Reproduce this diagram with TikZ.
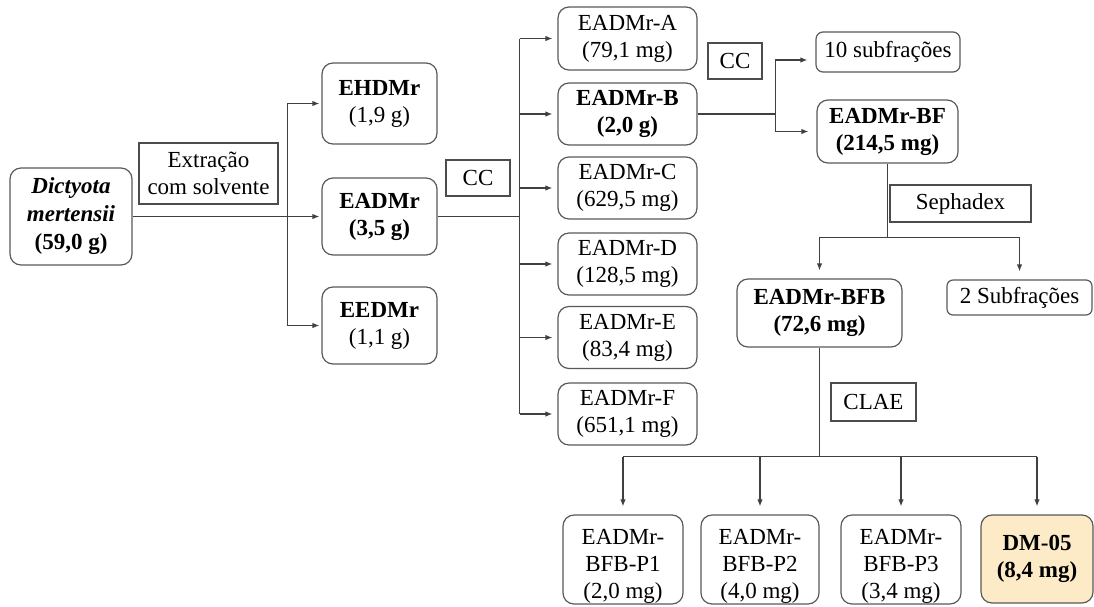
\documentclass[tikz,border=0pt]{standalone}
\usepackage{fontspec}
\setmainfont{Liberation Serif}
\usetikzlibrary{arrows.meta}
\definecolor{dmfill}{HTML}{FCEBC6}

\begin{document}
\begin{tikzpicture}[x=1pt, y=-1pt,
                every node/.style={font=\fontsize{23}{27}\selectfont, align=center, inner sep=0pt},
                box/.style={draw=black!65, line width=1.2pt, rounded corners=11pt},
                tag/.style={draw=black!70, line width=1.2pt},
                link/.style={draw=black!75, line width=1.2pt},
                arr/.style={link, -{Latex[length=7pt,width=5.5pt]}, shorten >=2pt}]

                \useasboundingbox (0,0) rectangle (1094,606);

                % alga e extratos
                \node[box, minimum width=122pt, minimum height=97pt, font=\fontsize{23}{28}\selectfont] (alga) at (71,216.5)
                    {\textbf{\textit{Dictyota}}\\\textbf{\textit{mertensii}}\\\textbf{(59,0 g)}};
                \node[tag, minimum width=139pt, minimum height=61pt] (extr) at (208.5,173.5) {Extração\\com solvente};
                \node[box, minimum width=115pt, minimum height=81pt] (ehd) at (379.5,103.5) {\textbf{EHDMr}\\(1,9 g)};
                \node[box, minimum width=115pt, minimum height=77pt] (ead) at (379.5,216.5) {\textbf{EADMr}\\\textbf{(3,5 g)}};
                \node[box, minimum width=115pt, minimum height=77pt] (eed) at (379.5,325.5) {\textbf{EEDMr}\\(1,1 g)};

                % frações do EADMr
                \node[tag, minimum width=64pt, minimum height=36pt] (cc1) at (478,178) {CC};
                \node[box, minimum width=139pt, minimum height=63pt] (fa) at (627.5,38.5) {EADMr-A\\(79,1 mg)};
                \node[box, minimum width=139pt, minimum height=62pt] (fb) at (627.5,114) {\textbf{EADMr-B}\\\textbf{(2,0 g)}};
                \node[box, minimum width=139pt, minimum height=62pt] (fc) at (627.5,188) {EADMr-C\\(629,5 mg)};
                \node[box, minimum width=139pt, minimum height=62pt] (fd) at (627.5,264) {EADMr-D\\(128,5 mg)};
                \node[box, minimum width=139pt, minimum height=62pt] (fe) at (627.5,337.5) {EADMr-E\\(83,4 mg)};
                \node[box, minimum width=139pt, minimum height=62pt] (ff) at (627.5,414) {EADMr-F\\(651,1 mg)};

                % subfrações de EADMr-B
                \node[tag, minimum width=54pt, minimum height=36pt] (cc2) at (735,61) {CC};
                \node[box, rounded corners=7pt, minimum width=144pt, minimum height=40pt] (sub10) at (888,52) {10 subfrações};
                \node[box, minimum width=141pt, minimum height=63pt] (bf) at (887.5,131.5) {\textbf{EADMr-BF}\\\textbf{(214,5 mg)}};
                \node[tag, minimum width=141pt, minimum height=37pt] (seph) at (960.5,203.5) {Sephadex};
                \node[box, minimum width=165pt, minimum height=68pt] (bfb) at (819.5,313) {\textbf{EADMr-BFB}\\\textbf{(72,6 mg)}};
                \node[box, rounded corners=6pt, minimum width=145pt, minimum height=35pt] (sub2) at (1019.5,297.5) {2 Subfrações};

                % CLAE
                \node[tag, minimum width=85pt, minimum height=38pt] (clae) at (873.5,402) {CLAE};
                \node[box, minimum width=120pt, minimum height=89pt] (p1) at (623,559.5) {\rule{0pt}{28pt}EADMr-\\BFB-P1\\(2,0 mg)};
                \node[box, minimum width=118pt, minimum height=89pt] (p2) at (760,559.5) {\rule{0pt}{28pt}EADMr-\\BFB-P2\\(4,0 mg)};
                \node[box, minimum width=120pt, minimum height=89pt] (p3) at (901,559.5) {\rule{0pt}{28pt}EADMr-\\BFB-P3\\(3,4 mg)};
                \node[box, fill=dmfill, minimum width=112pt, minimum height=88pt] (dm05) at (1037,559) {\textbf{DM-05}\\\textbf{(8,4 mg)}};

                % ligações
                \path (alga.east) ++(155,0) coordinate (j1);
                \draw[link] (alga.east) -- (j1);
                \draw[arr] (j1) |- (ehd.west);
                \draw[arr] (j1) -- (ead.west);
                \draw[arr] (j1) |- (eed.west);

                \path (ead.east) ++(82,0) coordinate (j2);
                \draw[link] (ead.east) -- (j2);
                \draw[link] (j2 |- fa.west) -- (j2 |- ff.west);
                \foreach \n in {fa,fb,fc,fd,fe,ff}
                    \draw[arr, shorten >=5pt] (j2 |- \n.west) -- (\n.west);

                \path (fb.east) ++(78,0) coordinate (j3);
                \draw[link] (fb.east) -- (j3);
                \draw[arr, shorten >=8pt] (j3) |- ([yshift=-8pt]sub10.west);
                \draw[arr, shorten >=8pt] (j3) |- (bf.west);

                \path (bf.south) ++(0,74) coordinate (j4);
                \draw[link] (bf.south) -- (j4);
                \draw[arr, shorten >=8pt] (j4) -| (bfb.north);
                \draw[arr, shorten >=8pt] (j4) -| (sub2.north);

                \path (bfb.south) ++(0,109) coordinate (j5);
                \draw[link] (bfb.south) -- (j5);
                \draw[link] (j5 -| p1.north) -- (j5 -| dm05.north);
                \foreach \n in {p1,p2,p3,dm05}
                    \draw[arr, shorten >=8pt] (j5 -| \n.north) -- (\n.north);

\end{tikzpicture}
\end{document}
